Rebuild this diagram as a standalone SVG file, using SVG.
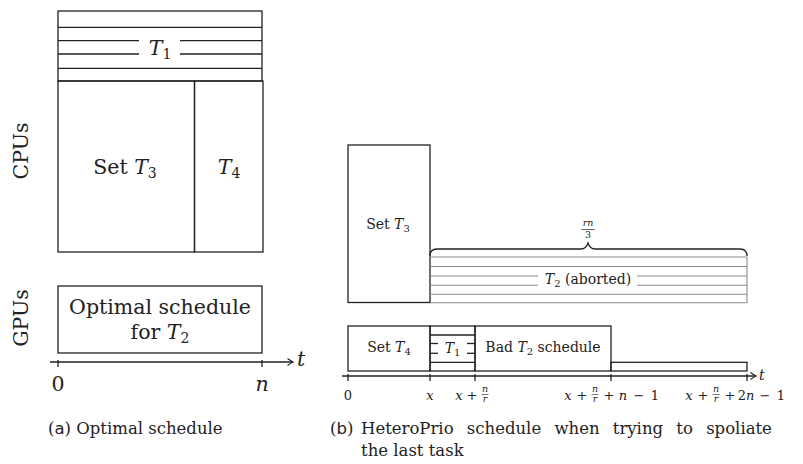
<svg xmlns="http://www.w3.org/2000/svg" width="803" height="464" viewBox="0 0 803 464">
<defs>
<marker id="arr" markerWidth="10" markerHeight="10" refX="8" refY="5" orient="auto" markerUnits="userSpaceOnUse">
<path d="M2.5,1.5 Q6,4 8,5 Q6,6 2.5,8.5" fill="none" stroke="#222" stroke-width="1.1"/>
</marker>
</defs>
<style>
.box{fill:none;stroke:#222;stroke-width:1.3}
.ln{stroke:#222;stroke-width:1.3;fill:none}
.gl{stroke:#8a8a8a;stroke-width:1.1;fill:none}
text{font-family:"DejaVu Serif","Liberation Serif",serif;fill:#222}
.big{font-size:20.5px}
.sm{font-size:14px}
.tk{font-size:13px}
.fr{font-size:9.5px}
.cap{font-size:16.5px}
.it{font-style:italic}
.sans{font-family:"DejaVu Sans","Liberation Sans",sans-serif}
</style>
<rect width="803" height="464" fill="#fff"/>

<!-- Part (a) -->
<g id="a-cpus-label">
<text class="big" x="28" y="151" text-anchor="middle" transform="rotate(-90 28 151)">CPUs</text>
</g>
<g id="a-gpus-label">
<text class="big" x="28" y="318" text-anchor="middle" transform="rotate(-90 28 318)">GPUs</text>
</g>
<g id="a-T1">
<rect class="box" x="58" y="11" width="204" height="70"/>
<line class="ln" x1="58" y1="27.3" x2="262" y2="27.3"/>
<line class="ln" x1="58" y1="40.7" x2="139" y2="40.7"/>
<line class="ln" x1="180" y1="40.7" x2="262" y2="40.7"/>
<line class="ln" x1="58" y1="54" x2="139" y2="54"/>
<line class="ln" x1="180" y1="54" x2="262" y2="54"/>
<line class="ln" x1="58" y1="68.3" x2="262" y2="68.3"/>
<text class="big" x="160" y="55" text-anchor="middle"><tspan class="it">T</tspan><tspan font-size="14" dy="4">1</tspan></text>
</g>
<g id="a-T3">
<rect class="box" x="58" y="81" width="136.5" height="171"/>
<text class="big" x="125" y="174" text-anchor="middle">Set <tspan class="it">T</tspan><tspan font-size="14" dy="4">3</tspan></text>
</g>
<g id="a-T4">
<rect class="box" x="194.5" y="81" width="68.5" height="171"/>
<text class="big" x="229" y="174" text-anchor="middle"><tspan class="it">T</tspan><tspan font-size="14" dy="4">4</tspan></text>
</g>
<g id="a-T2">
<rect class="box" x="58" y="286" width="204" height="67"/>
<text class="big" x="160" y="314" text-anchor="middle">Optimal schedule</text>
<text class="big" x="160" y="339" text-anchor="middle">for <tspan class="it">T</tspan><tspan font-size="14" dy="4">2</tspan></text>
</g>
<g id="a-axis-labels">
<text class="big" x="58" y="391" text-anchor="middle">0</text>
<text class="big it" x="262" y="391" text-anchor="middle">n</text>
<text class="big it" x="297" y="366">t</text>
</g>

<!-- Part (b) -->
<g id="b-T3">
<rect class="box" x="348" y="145" width="82" height="157.5"/>
<text class="sm" x="388" y="229" text-anchor="middle">Set <tspan class="it">T</tspan><tspan font-size="10" dy="3">3</tspan></text>
</g>
<g id="b-T2-aborted">
<line class="gl" x1="430" y1="257" x2="747" y2="257"/>
<line class="gl" x1="430" y1="266.5" x2="747" y2="266.5"/>
<line class="gl" x1="430" y1="276" x2="538" y2="276"/>
<line class="gl" x1="637" y1="276" x2="747" y2="276"/>
<line class="gl" x1="430" y1="285.3" x2="538" y2="285.3"/>
<line class="gl" x1="637" y1="285.3" x2="747" y2="285.3"/>
<line class="gl" x1="430" y1="294.3" x2="747" y2="294.3"/>
<line class="gl" x1="430" y1="302.7" x2="747" y2="302.7"/>
<line class="gl" x1="747" y1="257" x2="747" y2="302.7"/>
<text class="sm" x="588" y="284" text-anchor="middle"><tspan class="it">T</tspan><tspan font-size="10" dy="3">2</tspan><tspan dy="-3"> (aborted)</tspan></text>
</g>
<g id="b-brace">
<path class="ln" d="M430,256 Q430,249 437,249 L581,249 Q586,249 588,243 Q590,249 595,249 L740,249 Q747,249 747,256" stroke-width="1.3"/>
<text class="fr it" x="588" y="226" text-anchor="middle">rn</text>
<line x1="581.5" y1="229.5" x2="594.5" y2="229.5" stroke="#222" stroke-width="0.7"/>
<text class="fr" x="588" y="238" text-anchor="middle">3</text>
</g>
<g id="b-T4">
<rect class="box" x="348" y="326" width="82" height="45"/>
<text class="sm" x="389" y="352" text-anchor="middle">Set <tspan class="it">T</tspan><tspan font-size="10" dy="3">4</tspan></text>
</g>
<g id="b-T1">
<rect class="box" x="430" y="326" width="45" height="45"/>
<line class="ln" x1="430" y1="335" x2="475" y2="335"/>
<line class="ln" x1="430" y1="362.3" x2="475" y2="362.3"/>
<line class="ln" x1="430" y1="343.5" x2="438" y2="343.5"/>
<line class="ln" x1="467" y1="343.5" x2="475" y2="343.5"/>
<line class="ln" x1="430" y1="353.3" x2="438" y2="353.3"/>
<line class="ln" x1="467" y1="353.3" x2="475" y2="353.3"/>
<text class="sm" x="452.5" y="353" text-anchor="middle"><tspan class="it">T</tspan><tspan font-size="10" dy="3">1</tspan></text>
</g>
<g id="b-bad-T2">
<rect class="box" x="475" y="326" width="136" height="45"/>
<text class="sm" x="543" y="352" text-anchor="middle">Bad <tspan class="it">T</tspan><tspan font-size="10" dy="3">2</tspan><tspan dy="-3"> schedule</tspan></text>
</g>
<g id="b-tail">
<rect class="box" x="611" y="362.3" width="136" height="8.7"/>
</g>
<g id="b-axis-labels">
<text class="tk" x="348" y="400" text-anchor="middle">0</text>
<text class="tk it" x="430" y="400" text-anchor="middle">x</text>
<text class="tk it" x="459" y="400" text-anchor="middle">x</text>
<text class="tk" x="472" y="400" text-anchor="middle">+</text>
<text class="fr it" x="485" y="392" text-anchor="middle">n</text>
<line x1="481.5" y1="394.5" x2="488.5" y2="394.5" stroke="#222" stroke-width="0.6"/>
<text class="fr it" x="485" y="402" text-anchor="middle">r</text>
<text class="tk it" x="568" y="400" text-anchor="middle">x</text>
<text class="tk" x="582" y="400" text-anchor="middle">+</text>
<text class="fr it" x="595" y="392" text-anchor="middle">n</text>
<line x1="591.5" y1="394.5" x2="598.5" y2="394.5" stroke="#222" stroke-width="0.6"/>
<text class="fr it" x="595" y="402" text-anchor="middle">r</text>
<text class="tk" x="609" y="400" text-anchor="middle">+</text>
<text class="tk it" x="623" y="400" text-anchor="middle">n</text>
<text class="tk" x="639" y="400" text-anchor="middle">−</text>
<text class="tk" x="655" y="400" text-anchor="middle">1</text>
<text class="tk it" x="689" y="400" text-anchor="middle">x</text>
<text class="tk" x="703" y="400" text-anchor="middle">+</text>
<text class="fr it" x="716" y="392" text-anchor="middle">n</text>
<line x1="712.5" y1="394.5" x2="719.5" y2="394.5" stroke="#222" stroke-width="0.6"/>
<text class="fr it" x="716" y="402" text-anchor="middle">r</text>
<text class="tk" x="730" y="400" text-anchor="middle">+</text>
<text class="tk" x="746" y="400" text-anchor="middle">2<tspan class="it">n</tspan></text>
<text class="tk" x="765" y="400" text-anchor="middle">−</text>
<text class="tk" x="781" y="400" text-anchor="middle">1</text>
<text class="sm it" x="759" y="380">t</text>
</g>

<!-- connectors: time axes and ticks -->
<g id="connectors">
<line class="ln" x1="50" y1="362" x2="293" y2="362" marker-end="url(#arr)"/>
<line class="ln" x1="58" y1="360" x2="58" y2="367"/>
<line class="ln" x1="262" y1="360" x2="262" y2="367"/>
<line class="ln" x1="342" y1="376" x2="756" y2="376" marker-end="url(#arr)"/>
<line class="ln" x1="348" y1="374" x2="348" y2="381"/>
<line class="ln" x1="430" y1="374" x2="430" y2="381"/>
<line class="ln" x1="475" y1="374" x2="475" y2="381"/>
<line class="ln" x1="611" y1="374" x2="611" y2="381"/>
<line class="ln" x1="747" y1="374" x2="747" y2="381"/>
</g>

<!-- captions -->
<g id="captions">
<text class="cap" x="48" y="434">(<tspan class="sans">a</tspan>) Optimal schedule</text>
<text class="cap" x="330" y="434">(<tspan class="sans">b</tspan>)</text>
<text class="cap" x="361" y="434" word-spacing="8">HeteroPrio schedule when trying to spoliate</text>
<text class="cap" x="361" y="456">the last task</text>
</g>
</svg>
